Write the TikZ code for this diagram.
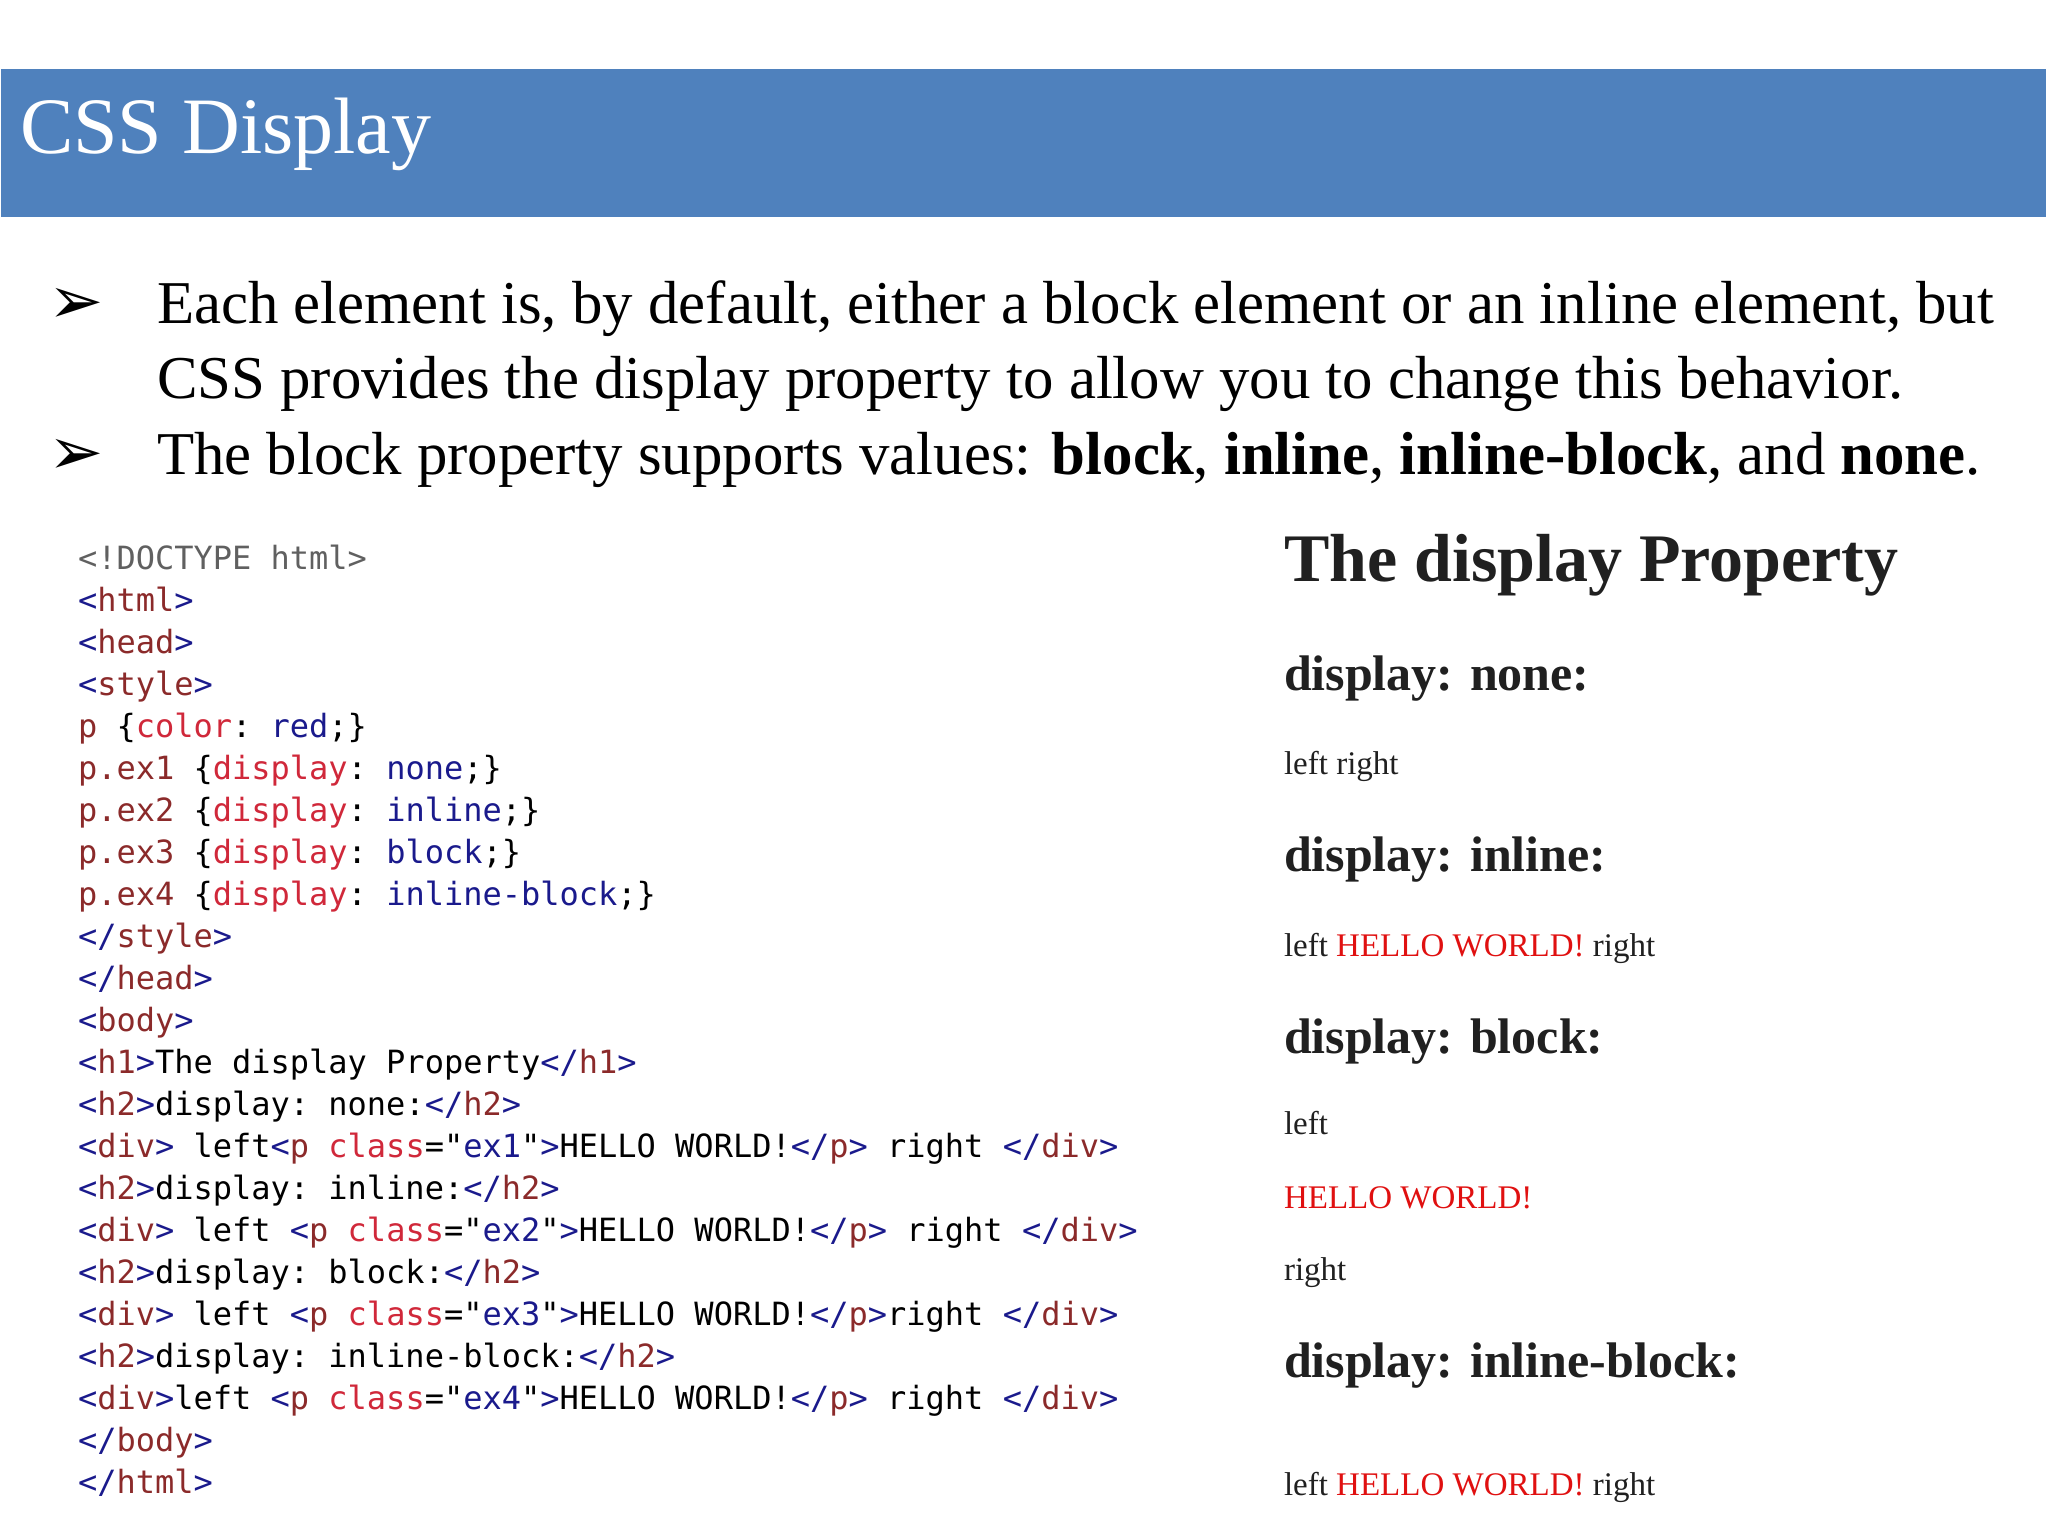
\documentclass[tikz,border=0pt]{standalone}
\usepackage{fontspec}
\setmainfont{Liberation Serif}
\setmonofont{DejaVu Sans Mono}
\newfontfamily\symf{DejaVu Sans}
\definecolor{hdr}{HTML}{4F81BD}
\definecolor{tagb}{HTML}{1A1A8C}
\definecolor{tagn}{HTML}{8B2A2A}
\definecolor{atr}{HTML}{D0283A}
\definecolor{vlc}{HTML}{1A1A8C}
\definecolor{dtc}{HTML}{606060}
\definecolor{hw}{HTML}{E01010}
\definecolor{rtx}{HTML}{202020}
\newcommand\T[1]{\textcolor{tagb}{<}\textcolor{tagn}{#1}\textcolor{tagb}{>}}
\newcommand\C[1]{\textcolor{tagb}{</}\textcolor{tagn}{#1}\textcolor{tagb}{>}}
\newcommand\Tp{\textcolor{tagb}{<}\textcolor{tagn}{p}}
\newcommand\At[1]{\textcolor{atr}{class}="\textcolor{vlc}{#1}"\textcolor{tagb}{>}}
\newcommand\Sl[1]{\textcolor{tagn}{#1}}
\newcommand\Prp[1]{\textcolor{atr}{#1}}
\newcommand\Vl[1]{\textcolor{vlc}{#1}}
\newcommand\HW{\textcolor{hw}{HELLO WORLD!}}
\tikzset{
  base/.style={anchor=base west,inner sep=0pt,outer sep=0pt},
  code/.style={base,font=\fontsize{16}{16}\ttfamily,text=black},
  bul/.style={base,font=\fontsize{30.4}{30.4}\selectfont},
  arr/.style={base,font=\fontsize{33}{33}\symf},
  rh1/.style={base,font=\fontsize{34}{34}\bfseries,text=rtx},
  rh2/.style={base,font=\fontsize{25}{25}\bfseries,text=rtx},
  rtxt/.style={base,font=\fontsize{16.5}{16.5}\selectfont,text=rtx},
}
\begin{document}
\begin{tikzpicture}[x=0.5pt,y=-0.5pt]
\useasboundingbox (0,0) rectangle (2048,1536);
\fill[hdr] (1,69) rectangle (2046,217);
\node[base,text=white,font=\fontsize{40}{40}\selectfont] (title) at (20,154) {CSS Display};
\node[arr] (b1) at (48,323) {➢};
\node[bul] (t1) at (157,323) {Each element is, by default, either a block element or an inline element, but};
\node[bul] (t2) at (157,398) {CSS provides the display property to allow you to change this behavior.};
\node[arr] (b2) at (48,474) {➢};
\node[bul] (t3) at (157,474) {The block property supports values: \textbf{block}, \textbf{inline}, \textbf{inline-block}, and \textbf{none}.};
% code
\node[code] (c0) at (78,569) {\textcolor{dtc}{<!DOCTYPE html>}};
\node[code] (c1) at (78,611) {\T{html}};
\node[code] (c2) at (78,653) {\T{head}};
\node[code] (c3) at (78,695) {\T{style}};
\node[code] (c4) at (78,737) {\Sl{p} \{\Prp{color}: \Vl{red};\}};
\node[code] (c5) at (78,779) {\Sl{p.ex1} \{\Prp{display}: \Vl{none};\}};
\node[code] (c6) at (78,821) {\Sl{p.ex2} \{\Prp{display}: \Vl{inline};\}};
\node[code] (c7) at (78,863) {\Sl{p.ex3} \{\Prp{display}: \Vl{block};\}};
\node[code] (c8) at (78,905) {\Sl{p.ex4} \{\Prp{display}: \Vl{inline-block};\}};
\node[code] (c9) at (78,947) {\C{style}};
\node[code] (c10) at (78,989) {\C{head}};
\node[code] (c11) at (78,1031) {\T{body}};
\node[code] (c12) at (78,1073) {\T{h1}The display Property\C{h1}};
\node[code] (c13) at (78,1115) {\T{h2}display: none:\C{h2}};
\node[code] (c14) at (78,1157) {\T{div} left\Tp{} \At{ex1}HELLO WORLD!\C{p} right \C{div}};
\node[code] (c15) at (78,1199) {\T{h2}display: inline:\C{h2}};
\node[code] (c16) at (78,1241) {\T{div} left \Tp{} \At{ex2}HELLO WORLD!\C{p} right \C{div}};
\node[code] (c17) at (78,1283) {\T{h2}display: block:\C{h2}};
\node[code] (c18) at (78,1325) {\T{div} left \Tp{} \At{ex3}HELLO WORLD!\C{p}right \C{div}};
\node[code] (c19) at (78,1367) {\T{h2}display: inline-block:\C{h2}};
\node[code] (c20) at (78,1409) {\T{div}left \Tp{} \At{ex4}HELLO WORLD!\C{p} right \C{div}};
\node[code] (c21) at (78,1451) {\C{body}};
\node[code] (c22) at (78,1493) {\C{html}};
% rendered
\node[rh1] (h1) at (1284,581) {The display Property};
\node[rh2] (h2a) at (1284,690) {display: none:};
\node[rtxt] (r1) at (1284,774) {left right};
\node[rh2] (h2b) at (1284,871) {display: inline:};
\node[rtxt] (r2) at (1284,956) {left \HW{} right};
\node[rh2] (h2c) at (1284,1053) {display: block:};
\node[rtxt] (r3) at (1284,1134) {left};
\node[rtxt] (r4) at (1284,1208) {\HW};
\node[rtxt] (r5) at (1284,1280) {right};
\node[rh2] (h2d) at (1284,1377) {display: inline-block:};
\node[rtxt] (r6) at (1284,1495) {left \HW{} right};
\end{tikzpicture}
\end{document}
